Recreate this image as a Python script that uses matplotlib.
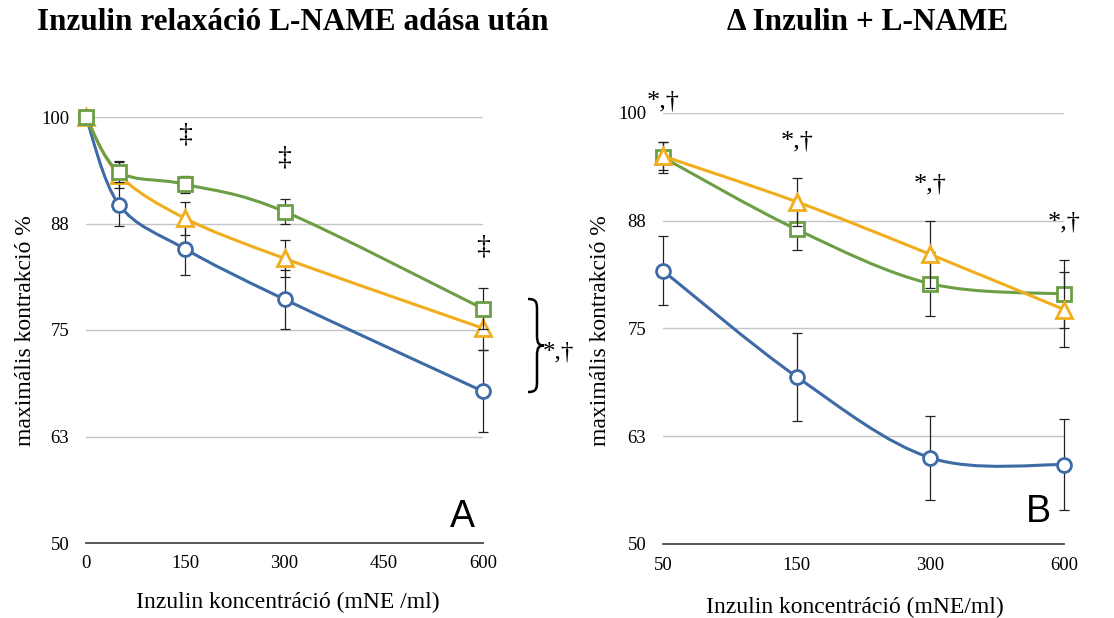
import matplotlib
matplotlib.use("Agg")
import matplotlib.pyplot as plt
from matplotlib.path import Path
from matplotlib.patches import PathPatch

# ---------------- data ----------------
# Panel A: insulin relaxation after L-NAME (linear x axis)
conc_a = [0, 50, 150, 300, 600]
blue_a = [100, 89.7, 84.5, 78.6, 67.8]
blue_a_err = [0, 2.5, 3.1, 3.5, 4.8]
orange_a = [100, 93.2, 88.1, 83.4, 75.2]
orange_a_err = [0, 1.5, 1.9, 2.2, 2.5]
green_a = [100, 93.6, 92.1, 88.9, 77.5]
green_a_err = [0, 1.2, 1.0, 1.5, 2.4]
dagger_a_x = [150, 300, 600]
dagger_a_y = [97.9, 95.2, 84.7]

# Panel B: delta insulin + L-NAME (category x axis)
cats_b = ["50", "150", "300", "600"]
blue_b = [81.7, 69.4, 60.0, 59.2]
blue_b_err = [4.0, 5.1, 4.9, 5.3]
orange_b = [95.0, 89.7, 83.6, 77.2]
orange_b_err = [1.6, 2.8, 3.9, 4.3]
green_b = [94.85, 86.5, 80.2, 79.0]
green_b_err = [1.8, 2.4, 3.7, 3.9]
star_b_y = [101.3, 96.7, 91.7, 87.3]

yticks = [50, 62.5, 75, 87.5, 100]
ytick_labels = ["50", "63", "75", "88", "100"]
xticks_a = [0, 150, 300, 450, 600]

BLUE = "#3e6aa6"
ORANGE = "#f0ae1e"
GREEN = "#6c9f45"
GRID = "#c4c4c4"

plt.rcParams["font.family"] = ["Liberation Serif", "DejaVu Serif"]

W, H = 1114, 618
fig = plt.figure(figsize=(W / 100, H / 100), dpi=100)


def fx(px):
    return px / W


def fy(py):
    return 1 - py / H


def smooth(ax, xs, ys, color, lw=2.2, z=3):
    pts = list(zip(xs, ys))
    n = len(pts)
    verts = [pts[0]]
    codes = [Path.MOVETO]
    for i in range(n - 1):
        p0 = pts[i - 1] if i > 0 else pts[i]
        p1 = pts[i]
        p2 = pts[i + 1]
        p3 = pts[i + 2] if i + 2 < n else pts[i + 1]
        c1 = (p1[0] + (p2[0] - p0[0]) / 6, p1[1] + (p2[1] - p0[1]) / 6)
        c2 = (p2[0] - (p3[0] - p1[0]) / 6, p2[1] - (p3[1] - p1[1]) / 6)
        verts += [c1, c2, p2]
        codes += [Path.CURVE4] * 3
    patch = PathPatch(Path(verts, codes), facecolor="none", edgecolor=color,
                      lw=lw, zorder=z, clip_on=False, capstyle="round")
    ax.add_patch(patch)


def style_axes(ax):
    ax.set_ylim(50, 100)
    ax.set_yticks(yticks)
    ax.set_yticklabels(ytick_labels)
    ax.yaxis.grid(True, color=GRID, lw=1.0)
    ax.set_axisbelow(True)
    for s in ["left", "right", "top"]:
        ax.spines[s].set_visible(False)
    ax.spines["bottom"].set_color("#4a4a4a")
    ax.spines["bottom"].set_linewidth(1.3)
    ax.tick_params(axis="both", length=0, labelsize=13.5)
    ax.tick_params(axis="y", pad=12)
    ax.tick_params(axis="x", pad=9)


def series(ax, x, y, err, color, marker, ms, z):
    smooth(ax, x, y, color, z=z)
    ax.errorbar(x, y, yerr=err, fmt="none", ecolor="#222222", elinewidth=0.9,
                capsize=3.5, capthick=0.9, zorder=z + 0.5, clip_on=False)
    ax.plot(x, y, linestyle="none", marker=marker, ms=ms, mfc="white",
            mec=color, mew=2.0, zorder=z + 1, clip_on=False)


# ---------------- Panel A ----------------
axA = fig.add_axes([fx(86), fy(543), fx(483) - fx(86), fy(117) - fy(543)])
style_axes(axA)
axA.set_xlim(0, 600)
axA.set_xticks(xticks_a)
series(axA, conc_a, blue_a, blue_a_err, BLUE, "o", 10, 3)
series(axA, conc_a, orange_a, orange_a_err, ORANGE, "^", 11, 5)
series(axA, conc_a, green_a, green_a_err, GREEN, "s", 10, 7)
for x, y in zip(dagger_a_x, dagger_a_y):
    axA.text(x, y, "‡", ha="center", va="center", fontsize=20, zorder=10)

# brace
bx0, by0, by1 = 528, 299, 392
bym = (by0 + by1) / 2
bw = 9
brace_verts = [
    (bx0, by0),
    (bx0 + bw, by0), (bx0 + bw, by0 + 4), (bx0 + bw, by0 + 12),
    (bx0 + bw, bym - 10),
    (bx0 + bw, bym - 2), (bx0 + bw + 2, bym), (bx0 + bw + 7, bym),
    (bx0 + bw + 2, bym), (bx0 + bw, bym + 2), (bx0 + bw, bym + 10),
    (bx0 + bw, by1 - 12),
    (bx0 + bw, by1 - 4), (bx0 + bw, by1), (bx0, by1),
]
brace_codes = [Path.MOVETO, Path.CURVE4, Path.CURVE4, Path.CURVE4, Path.LINETO,
               Path.CURVE4, Path.CURVE4, Path.CURVE4,
               Path.CURVE4, Path.CURVE4, Path.CURVE4, Path.LINETO,
               Path.CURVE4, Path.CURVE4, Path.CURVE4]
brace_fig = [(fx(px), fy(py)) for px, py in brace_verts]
fig.add_artist(PathPatch(Path(brace_fig, brace_codes), facecolor="none",
                         edgecolor="black", lw=1.8, transform=fig.transFigure))
fig.text(fx(543), fy(352), "*,†", ha="left", va="center", fontsize=18)

fig.text(fx(462), fy(517), "A", ha="center", va="center", fontsize=27,
         family=["Liberation Sans", "DejaVu Sans"])
fig.text(fx(26), fy(331), "maximális kontrakció %", rotation=90,
         ha="center", va="center", fontsize=17)
fig.text(fx(288), fy(602), "Inzulin koncentráció (mNE /ml)",
         ha="center", va="center", fontsize=17)
fig.text(fx(293), fy(22), "Inzulin relaxáció L-NAME adása után",
         ha="center", va="center", fontsize=22.5, fontweight="bold")

# ---------------- Panel B ----------------
axB = fig.add_axes([fx(663), fy(544), fx(1064) - fx(663), fy(113) - fy(544)])
style_axes(axB)
xb = list(range(len(cats_b)))
axB.set_xlim(0, len(cats_b) - 1)
axB.set_xticks(xb)
axB.set_xticklabels(cats_b)
series(axB, xb, blue_b, blue_b_err, BLUE, "o", 10, 3)
series(axB, xb, green_b, green_b_err, GREEN, "s", 10, 5)
series(axB, xb, orange_b, orange_b_err, ORANGE, "^", 11, 7)
for x, y in zip(xb, star_b_y):
    axB.text(x, y, "*,†", ha="center", va="center", fontsize=19, zorder=10,
             clip_on=False)

fig.text(fx(1038), fy(512), "B", ha="center", va="center", fontsize=27,
         family=["Liberation Sans", "DejaVu Sans"])
fig.text(fx(600), fy(331), "maximális kontrakció %", rotation=90,
         ha="center", va="center", fontsize=17)
fig.text(fx(855), fy(607), "Inzulin koncentráció (mNE/ml)",
         ha="center", va="center", fontsize=17)
fig.text(fx(868), fy(22), "Δ Inzulin + L-NAME",
         ha="center", va="center", fontsize=22.5, fontweight="bold")

fig.savefig("out.png", dpi=100, facecolor="white")
